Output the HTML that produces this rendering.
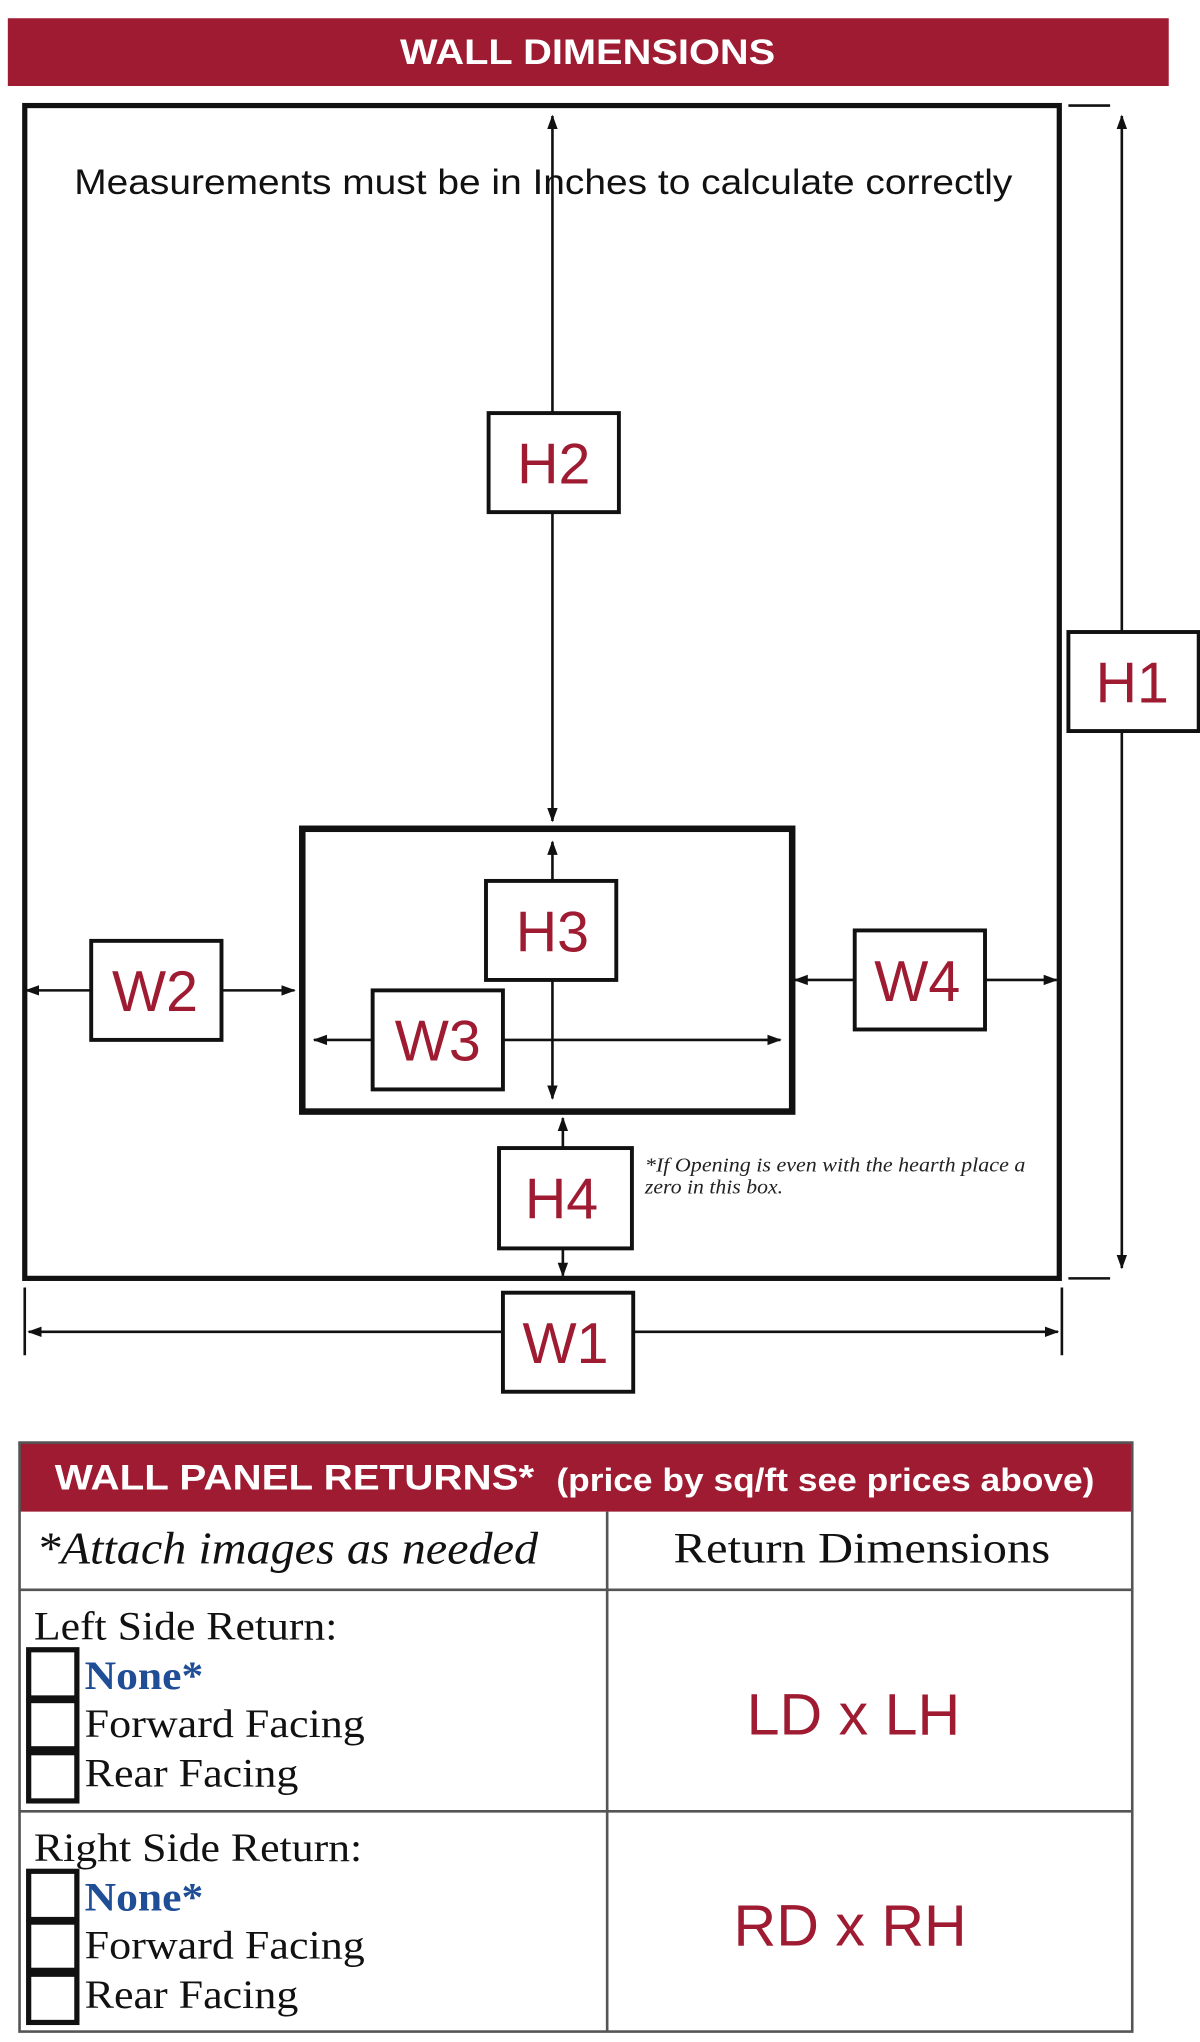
<!DOCTYPE html>
<html><head><meta charset="utf-8"><style>
html,body{margin:0;padding:0;background:#fff;}
svg{display:block;}
.red{fill:#9e1b32;}
.lbl{font-family:"Liberation Sans",sans-serif;font-size:44px;fill:#9e1b32;text-anchor:middle;}
.ser{font-family:"Liberation Serif",serif;}
</style></head><body>
<svg width="1200" height="2042" viewBox="0 0 921 1567" preserveAspectRatio="none" xmlns="http://www.w3.org/2000/svg">
<defs>
<marker id="a" markerWidth="11" markerHeight="11" refX="10" refY="5.5" orient="auto-start-reverse" markerUnits="userSpaceOnUse"><path d="M0,1.5 L11,5.5 L0,9.5 z" fill="#111"/></marker>
</defs>
<rect x="6" y="14" width="891" height="52" class="red"/>
<text x="307" y="49" font-family="Liberation Sans,sans-serif" font-weight="bold" font-size="27" fill="#fff" textLength="288" lengthAdjust="spacingAndGlyphs">WALL DIMENSIONS</text>
<rect x="19" y="81" width="794" height="900" fill="none" stroke="#111" stroke-width="4"/>
<text x="57" y="149" font-family="Liberation Sans,sans-serif" font-size="27" fill="#111" textLength="720" lengthAdjust="spacingAndGlyphs">Measurements must be in Inches to calculate correctly</text>
<g stroke="#111" stroke-width="2" fill="none">
<line x1="424" y1="89" x2="424" y2="630" marker-start="url(#a)" marker-end="url(#a)"/>
<line x1="861" y1="89" x2="861" y2="973" marker-start="url(#a)" marker-end="url(#a)"/>
<line x1="820" y1="81" x2="852" y2="81"/><line x1="820" y1="981" x2="852" y2="981"/>
<line x1="424" y1="646" x2="424" y2="843" marker-start="url(#a)" marker-end="url(#a)"/>
<line x1="241" y1="798" x2="599" y2="798" marker-start="url(#a)" marker-end="url(#a)"/>
<line x1="20" y1="760" x2="226" y2="760" marker-start="url(#a)" marker-end="url(#a)"/>
<line x1="610" y1="752" x2="811" y2="752" marker-start="url(#a)" marker-end="url(#a)"/>
<line x1="432" y1="858" x2="432" y2="979" marker-start="url(#a)" marker-end="url(#a)"/>
<line x1="22" y1="1022" x2="812" y2="1022" marker-start="url(#a)" marker-end="url(#a)"/>
<line x1="19" y1="988" x2="19" y2="1040"/><line x1="815" y1="988" x2="815" y2="1040"/>
</g>
<rect x="232" y="636" width="376" height="217" fill="none" stroke="#111" stroke-width="5"/>
<g fill="#fff" stroke="#111" stroke-width="3">
<rect x="375" y="317" width="100" height="76"/>
<rect x="820" y="485" width="100" height="76"/>
<rect x="373" y="676" width="100" height="76"/>
<rect x="286" y="760" width="100" height="76"/>
<rect x="70" y="722" width="100" height="76"/>
<rect x="656" y="714" width="100" height="76"/>
<rect x="383" y="881" width="102" height="77"/>
<rect x="386" y="992" width="100" height="76"/>
</g>
<text class="lbl" x="425" y="371">H2</text>
<text class="lbl" x="869" y="539">H1</text>
<text class="lbl" x="424" y="730">H3</text>
<text class="lbl" x="336" y="814">W3</text>
<text class="lbl" x="119" y="776">W2</text>
<text class="lbl" x="704" y="768">W4</text>
<text class="lbl" x="431" y="935">H4</text>
<text class="lbl" x="434" y="1046">W1</text>
<text x="495" y="899" class="ser" font-style="italic" font-size="15" fill="#222" textLength="292" lengthAdjust="spacingAndGlyphs">*If Opening is even with the hearth place a</text>
<text x="495" y="916" class="ser" font-style="italic" font-size="15" fill="#222" textLength="106" lengthAdjust="spacingAndGlyphs">zero in this box.</text>
<rect x="15" y="1107" width="854" height="53" class="red"/>
<text x="42" y="1143" font-family="Liberation Sans,sans-serif" font-weight="bold" font-size="27" fill="#fff" textLength="368" lengthAdjust="spacingAndGlyphs">WALL PANEL RETURNS*</text>
<text x="427" y="1144" font-family="Liberation Sans,sans-serif" font-weight="bold" font-size="25" fill="#fff" textLength="413" lengthAdjust="spacingAndGlyphs">(price by sq/ft see prices above)</text>
<g stroke="#555" stroke-width="2" fill="none">
<rect x="15" y="1107" width="854" height="452"/>
<line x1="15" y1="1220" x2="869" y2="1220"/>
<line x1="15" y1="1390" x2="869" y2="1390"/>
<line x1="466" y1="1160" x2="466" y2="1559"/>
</g>
<text x="28" y="1200" class="ser" font-style="italic" font-size="35" fill="#111" textLength="385" lengthAdjust="spacingAndGlyphs">*Attach images as needed</text>
<text x="517" y="1199" class="ser" font-size="33" fill="#111" textLength="289" lengthAdjust="spacingAndGlyphs">Return Dimensions</text>
<g class="ser" font-size="31" fill="#111">
<text x="26" y="1258" textLength="233" lengthAdjust="spacingAndGlyphs">Left Side Return:</text>
<text x="65" y="1296" font-weight="bold" fill="#1f4e96" textLength="91" lengthAdjust="spacingAndGlyphs">None*</text>
<text x="65" y="1333" textLength="215" lengthAdjust="spacingAndGlyphs">Forward Facing</text>
<text x="65" y="1371" textLength="164" lengthAdjust="spacingAndGlyphs">Rear Facing</text>
<text x="26" y="1428" textLength="252" lengthAdjust="spacingAndGlyphs">Right Side Return:</text>
<text x="65" y="1466" font-weight="bold" fill="#1f4e96" textLength="91" lengthAdjust="spacingAndGlyphs">None*</text>
<text x="65" y="1503" textLength="215" lengthAdjust="spacingAndGlyphs">Forward Facing</text>
<text x="65" y="1541" textLength="164" lengthAdjust="spacingAndGlyphs">Rear Facing</text>
</g>
<g fill="none" stroke="#111" stroke-width="4">
<rect x="22" y="1266" width="37" height="37"/><rect x="22" y="1305" width="37" height="37"/><rect x="22" y="1345" width="37" height="37"/>
<rect x="22" y="1436" width="37" height="37"/><rect x="22" y="1475" width="37" height="37"/><rect x="22" y="1515" width="37" height="37"/>
</g>
<text x="573" y="1331" font-family="Liberation Sans,sans-serif" font-size="45" fill="#9e1b32" textLength="164" lengthAdjust="spacingAndGlyphs">LD x LH</text>
<text x="563" y="1493" font-family="Liberation Sans,sans-serif" font-size="45" fill="#9e1b32" textLength="179" lengthAdjust="spacingAndGlyphs">RD x RH</text>
</svg>
</body></html>
